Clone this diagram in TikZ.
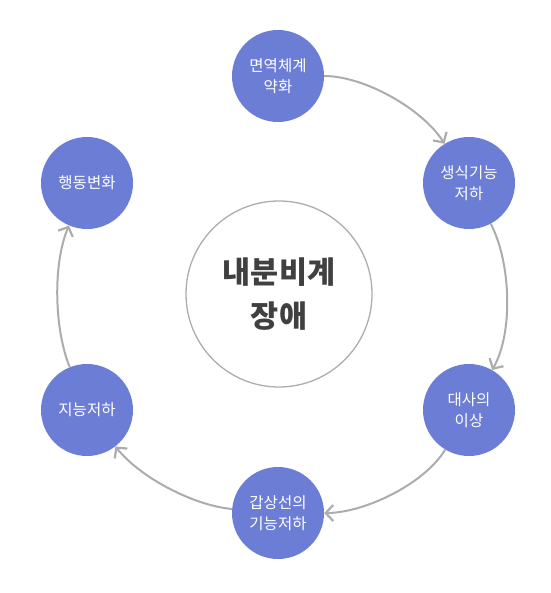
\documentclass[tikz,border=0pt]{standalone}
\usepackage{fontspec}
\setmainfont{Noto Sans CJK KR}
\usetikzlibrary{arrows.meta}
\definecolor{nodeblue}{RGB}{108,125,213}
\definecolor{arrowgray}{RGB}{172,172,172}
\definecolor{centertext}{RGB}{64,64,64}
\begin{document}
\begin{tikzpicture}[x=1pt,y=-1pt,
  stagenode/.style={circle, fill=nodeblue, minimum size=92pt, inner sep=0pt, text=white, align=center, font=\fontsize{15.5}{21}\selectfont},
  hubnode/.style={circle, draw=arrowgray, line width=1.3pt, minimum size=186pt, inner sep=0pt, text=centertext, align=center, font=\fontsize{30.5}{44}\selectfont\bfseries},
  flow/.style={draw=arrowgray, line width=2pt, looseness=0.75, -{Straight Barb[length=7.5pt,width=16pt,line width=2.2pt]}}]
\useasboundingbox (0,0) rectangle (550,593);
\node[hubnode] (hub) at (279,294) {내분비계\\장애};
\node[stagenode] (immune) at (278,76) {면역체계\\약화};
\node[stagenode] (repro) at (469,183) {생식기능\\저하};
\node[stagenode] (metab) at (469,410) {대사의\\이상};
\node[stagenode] (thyroid) at (278,513) {갑상선의\\기능저하};
\node[stagenode] (intel) at (87,410) {지능저하};
\node[stagenode] (behav) at (87,183) {행동변화};
\draw[flow] (immune) to[out=0, in=122] (repro);
\draw[flow] (repro) to[out=-62, in=60] (metab);
\draw[flow] (metab) to[out=-121, in=0] (thyroid);
\draw[flow] (thyroid) to[out=175, in=-52] (intel);
\draw[flow] (intel) to[out=112, in=-113] (behav);
\end{tikzpicture}
\end{document}
